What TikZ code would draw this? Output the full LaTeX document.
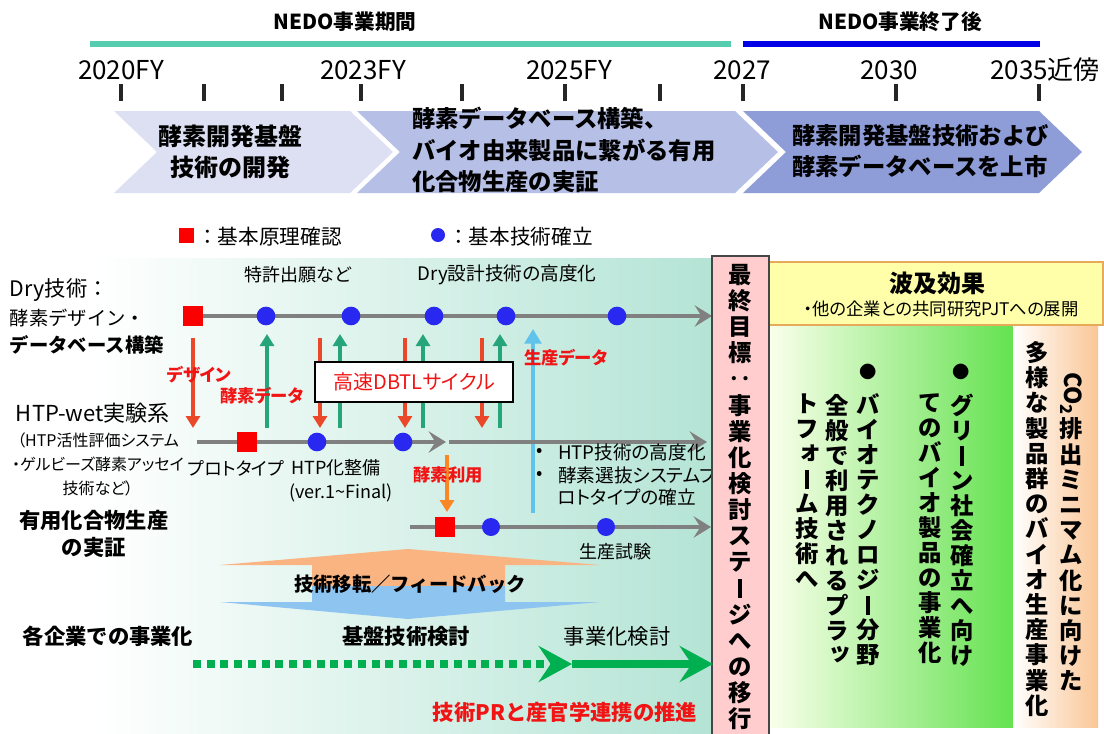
\documentclass[tikz,border=0pt]{standalone}
\usepackage{fontspec}
\setmainfont{Noto Sans CJK JP}
\newfontfamily\jpp{Noto Sans CJK JP}[RawFeature=+palt]
\usepackage{graphicx}
\usetikzlibrary{arrows.meta}
\ExplSyntaxOn
\NewDocumentCommand\tate{mm}
 {
  \vbox
   {
    \baselineskip=#1\relax
    \lineskiplimit=-100pt\relax
    \tl_map_inline:nn {#2} { \hbox_to_wd:nn {1.1em} { \hss ##1 \hss } }
   }
 }
\ExplSyntaxOff
\newcommand\chobar{\rule[-0.06em]{0.13em}{0.84em}}
\newcommand\smk[1]{\raisebox{0.14em}{\kern0.24em#1}}
\definecolor{teal1}{RGB}{87,205,175}
\definecolor{nblue}{RGB}{0,0,230}
\definecolor{chev1}{RGB}{221,224,243}
\definecolor{chev2}{RGB}{182,191,230}
\definecolor{chev3}{RGB}{142,156,216}
\definecolor{pan}{RGB}{180,228,213}
\definecolor{gline}{RGB}{128,128,128}
\definecolor{sqred}{RGB}{250,0,0}
\definecolor{dotblue}{RGB}{40,40,240}
\definecolor{arred}{RGB}{234,72,40}
\definecolor{argreen}{RGB}{38,165,122}
\definecolor{arlblue}{RGB}{95,195,235}
\definecolor{arorange}{RGB}{250,135,35}
\definecolor{lblred}{RGB}{240,20,20}
\definecolor{bigor}{RGB}{249,180,130}
\definecolor{bigbl}{RGB}{142,196,240}
\definecolor{dgreen}{RGB}{0,176,80}
\definecolor{pinkf}{RGB}{255,205,205}
\definecolor{pinkb}{RGB}{70,70,70}
\definecolor{yelf}{RGB}{255,255,170}
\definecolor{yelb}{RGB}{230,170,90}
\definecolor{grn}{RGB}{100,226,80}
\definecolor{grnl}{RGB}{250,255,235}
\definecolor{orng}{RGB}{250,198,150}
\begin{document}
\begin{tikzpicture}[x=0.75pt,y=-0.75pt,
  every node/.style={inner sep=0pt, outer sep=0pt},
  redsq/.style={fill=sqred, minimum size=15pt},
  bdot/.style={circle, fill=dotblue, minimum size=14pt},
  gl/.style={line width=3pt, gline, -{Stealth[length=13pt,width=16pt,inset=5pt]}},
  dnarr/.style={line width=3pt, arred, -{Triangle[length=9pt,width=10.5pt]}},
  uparr/.style={line width=3pt, argreen, -{Triangle[length=9pt,width=10.5pt]}},
  redlbl/.style={text=lblred, font=\jpp\bfseries\fontsize{13}{15}\selectfont},
  smlbl/.style={font=\jpp\fontsize{13.5}{16}\selectfont},
  bullbl/.style={font=\jpp\fontsize{14}{16}\selectfont},
  rowlbl/.style={font=\fontsize{14.5}{16}\selectfont},
  chevtxt/.style={font=\bfseries\fontsize{17.5}{23}\selectfont},
  tatebf/.style={font=\bfseries\fontsize{17.5}{18}\selectfont},
  yearlbl/.style={font=\fontsize{19.5}{20}\selectfont},
  toplbl/.style={font=\bfseries\fontsize{15.5}{16}\selectfont},
  greenarr/.style={line width=6pt, dgreen, -{Stealth[length=25pt,width=27pt,inset=9pt]}}
]
\useasboundingbox (0,0) rectangle (1104,733);
\fill[white] (0,0) rectangle (1104,733);

% ---------- top timeline ----------
\node[toplbl] (nedo1) at (345,22) {NEDO事業期間};
\node[toplbl] (nedo2) at (900,22) {NEDO事業終了後};
\draw[line width=4.5pt, teal1] (90,44) -- (731,44);
\draw[line width=4pt, nblue] (743,44) -- (1040,44);
\node[yearlbl] (y20) at (121,70) {2020FY};
\node[yearlbl] (y23) at (363,70) {2023FY};
\node[yearlbl] (y25) at (569,70) {2025FY};
\node[yearlbl] (y27) at (742,70) {2027};
\node[yearlbl] (y30) at (889,70) {2030};
\node[yearlbl] (y35) at (1045,70) {2035近傍};
\foreach \x in {121,204,282,361,462,565,660,743,896,1039}
  \draw[line width=2.3pt, black!85] (\x,84) -- (\x,101);

% ---------- chevrons ----------
\fill[chev1] (114,111) -- (350,111) -- (393,152) -- (350,193) -- (114,193) -- (157,152) -- cycle;
\fill[chev2] (357,111) -- (735,111) -- (778,152) -- (735,193) -- (357,193) -- (400,152) -- cycle;
\fill[chev3] (743,111) -- (1039,111) -- (1082,152) -- (1039,193) -- (743,193) -- (786,152) -- cycle;
\node[chevtxt, align=center, font=\bfseries\fontsize{18}{23}\selectfont] (c1t) at (230,152) {酵素開発基盤\\技術の開発};
\node[chevtxt, align=left, anchor=west, font=\bfseries\fontsize{17.5}{23.6}\selectfont] (c2t) at (412,150) {酵素データベース構築、\\バイオ由来製品に繋がる有用\\化合物生産の実証};
\node[chevtxt, align=left, anchor=west] (c3t) at (792,151) {酵素開発基盤技術および\\酵素データベースを上市};

% ---------- legend ----------
\node[fill=sqred, minimum size=11.25pt] (lgsq) at (186,235) {};
\node[anchor=west, font=\fontsize{15.5}{16}\selectfont] (lgsqt) at (197,237) {：基本原理確認};
\node[circle, fill=dotblue, minimum size=10.5pt] (lgdot) at (438,235) {};
\node[anchor=west, font=\fontsize{15.5}{16}\selectfont] (lgdott) at (448,237) {：基本技術確立};

% ---------- left panel ----------
\shade[left color=white, right color=pan] (95,258) rectangle (712,733);

% row labels
\node[anchor=west, font=\fontsize{16}{16}\selectfont] (dryl1) at (10,290) {Dry技術：};
\node[rowlbl, anchor=west] (dryl2) at (10,318) {酵素デザイン・};
\node[rowlbl, anchor=west, font=\bfseries\fontsize{14.5}{16}\selectfont] (dryl3) at (10,345) {データベース構築};
\node[anchor=west, font=\fontsize{16.5}{16}\selectfont] (htpl) at (16,413) {HTP-wet実験系};
\node[align=center, font=\jpp\fontsize{12}{18}\selectfont] (htpsub) at (98,464) {（HTP活性評価システム\\・ゲルビーズ酵素アッセイ\\技術など）};
\node[align=center, font=\bfseries\fontsize{16}{20}\selectfont] (prodl) at (94,534) {有用化合物生産\\の実証};
\node[font=\bfseries\fontsize{16}{18}\selectfont] (bizl) at (108,636) {各企業での事業化};

% small labels
\node[smlbl] (pat) at (298,275) {特許出願など};
\node[smlbl, font=\jpp\fontsize{14}{16}\selectfont] (drya) at (507,275) {Dry設計技術の高度化};
\node[smlbl] (proto) at (236,468) {プロトタイプ};
\node[smlbl] (htpseibi) at (336,468) {HTP化整備};
\node[smlbl] (ver) at (341,493) {(ver.1\textasciitilde Final)};
\node[smlbl] (seisan) at (615,552) {生産試験};

% vertical arrows between Dry and HTP
\foreach \x [count=\i] in {193,320,405,482} {
  \coordinate (rt\i) at (\x,338); \coordinate (rb\i) at (\x,428);
  \draw[dnarr] (rt\i) -- (rb\i);
}
\foreach \x [count=\i] in {267,340,423,500} {
  \coordinate (gb\i) at (\x,428); \coordinate (gt\i) at (\x,334);
  \draw[uparr] (gb\i) -- (gt\i);
}
% light blue and orange arrows
\coordinate (lbb) at (533,513); \coordinate (lbt) at (533,329);
\draw[line width=3.6pt, arlblue, -{Triangle[length=11pt,width=12.5pt]}] (lbb) -- (lbt);
\coordinate (ort) at (447,455); \coordinate (orb) at (447,512);
\draw[line width=3pt, arorange, -{Triangle[length=9pt,width=10.5pt]}] (ort) -- (orb);

% gray lines
\coordinate (dryS) at (193,316); \coordinate (dryE) at (712,316);
\draw[gl] (dryS) -- (dryE);
\coordinate (h1S) at (197,442); \coordinate (h1E) at (446,442);
\draw[gl] (h1S) -- (h1E);
\coordinate (h2S) at (449,442); \coordinate (h2E) at (707,442);
\draw[gl] (h2S) -- (h2E);
\coordinate (pS) at (410,527); \coordinate (pE) at (711,527);
\draw[gl] (pS) -- (pE);

% markers
\node[redsq] (d0) at (193,316) {};
\foreach \x [count=\i] in {266,351,434,506,617} \node[bdot] (d\i) at (\x,316) {};
\node[redsq] (h0) at (247,442) {};
\node[bdot] (h1) at (317,442) {};
\node[bdot] (h2) at (403,442) {};
\node[redsq] (p0) at (445,527) {};
\node[bdot, minimum size=13.5pt] (p1) at (491,527) {};
\node[bdot, minimum size=13.5pt] (p2) at (606,527) {};

% DBTL box
\node[draw=black, line width=2pt, fill=white, minimum width=148.5pt, minimum height=30pt,
      text=lblred, font=\jpp\fontsize{15}{16}\selectfont] (dbtl) at (414,382) {高速DBTLサイクル};

% red labels
\node[redlbl] (lbdes) at (199,375) {デザイン};
\node[redlbl] (lbenz) at (262,396) {酵素データ};
\node[redlbl] (lbprod) at (566,358) {生産データ};
\node[redlbl] (lbuse) at (448,475) {酵素利用};

% bullet list
\node[bullbl] (bu1) at (540,452) {•};
\node[bullbl, anchor=west] (bt1) at (558,452) {HTP技術の高度化};
\node[bullbl] (bu2) at (540,475) {•};
\node[bullbl, anchor=west] (bt2) at (558,475) {酵素選抜システムプ};
\node[bullbl, anchor=west] (bt3) at (558,497) {ロトタイプの確立};

% big double arrow
\fill[bigor] (408,549) -- (600,565) -- (505,565) -- (505,586) -- (312,586) -- (312,565) -- (220,565) -- cycle;
\fill[bigbl] (312,586) -- (505,586) -- (505,602) -- (600,602) -- (408,619) -- (220,602) -- (312,602) -- cycle;
\node[font=\bfseries\fontsize{14.5}{16}\selectfont] (tt) at (410,584) {技術移転／フィードバック};

\node[font=\bfseries\fontsize{16}{18}\selectfont] (kiban) at (406,636) {基盤技術検討};
\node[font=\fontsize{16}{18}\selectfont] (jigyo) at (617,636) {事業化検討};

% ---------- right side ----------
\shade[left color=grnl, right color=grn] (769,325) rectangle (1013,727);
\shade[left color=white, right color=orng] (1013,325) rectangle (1098,727);
\node[draw=yelb, line width=0.8pt, fill=yelf, minimum width=250.5pt, minimum height=47.25pt, anchor=north west] (yel) at (769,262) {};
\node[font=\bfseries\fontsize{18}{20}\selectfont] (hakyu) at (937,283) {波及効果};
\node[font=\jpp\fontsize{13}{15}\selectfont] (hakyus) at (941,309) {・他の企業との共同研究PJTへの展開};

\node[draw=pinkb, line width=1.2pt, fill=pinkf, minimum width=42.75pt, minimum height=360pt, anchor=north west] (pink) at (712,256) {};
\node[tatebf] (goal) at (740,497) {\tate{19.6pt}{最終目標‥事業化検討ステ{\chobar}ジへの移行}};

% green arrows
\coordinate (gs) at (193,664); \coordinate (gm) at (572,664); \coordinate (ge) at (713,664);
\draw[greenarr, dash pattern=on 6pt off 4.3pt] (gs) -- (gm);
\draw[greenarr] (gm) -- (ge);
\node[font=\bfseries\fontsize{16}{18}\selectfont, text=lblred] (pr) at (565,712) {技術PRと産官学連携の推進};

% green panel texts
\node[font=\fontsize{13}{14}\selectfont] (bul1) at (961,372) {●};
\node[font=\fontsize{13}{14}\selectfont] (bul2) at (868,372) {●};
\node[tatebf, anchor=north] (ga) at (962,394) {\tate{18.75pt}{グリ{\chobar}ン社会確立へ向け}};
\node[tatebf, anchor=north] (gb) at (930,394) {\tate{18.75pt}{てのバイオ製品の事業化}};
\node[tatebf, anchor=north] (gc) at (868,394) {\tate{18.75pt}{バイオテクノロジ{\chobar}分野}};
\node[tatebf, anchor=north] (gd) at (837,394) {\tate{18.75pt}{全般で利用されるプラ{\smk{ッ}}}};
\node[tatebf, anchor=north] (ge2) at (807,394) {\tate{18.75pt}{トフ{\smk{ォ}}{\chobar}ム技術へ}};

% orange panel texts
\node[tatebf] (oa) at (1037,529) {\tate{18.9pt}{多様な製品群のバイオ生産事業化}};
\node[tatebf, rotate=-90, anchor=west] (co2) at (1071,372) {CO\textsubscript{2}};
\node[tatebf, anchor=north] (ob) at (1071,418) {\tate{18.9pt}{排出ミニマム化に向けた}};
\end{tikzpicture}
\end{document}
